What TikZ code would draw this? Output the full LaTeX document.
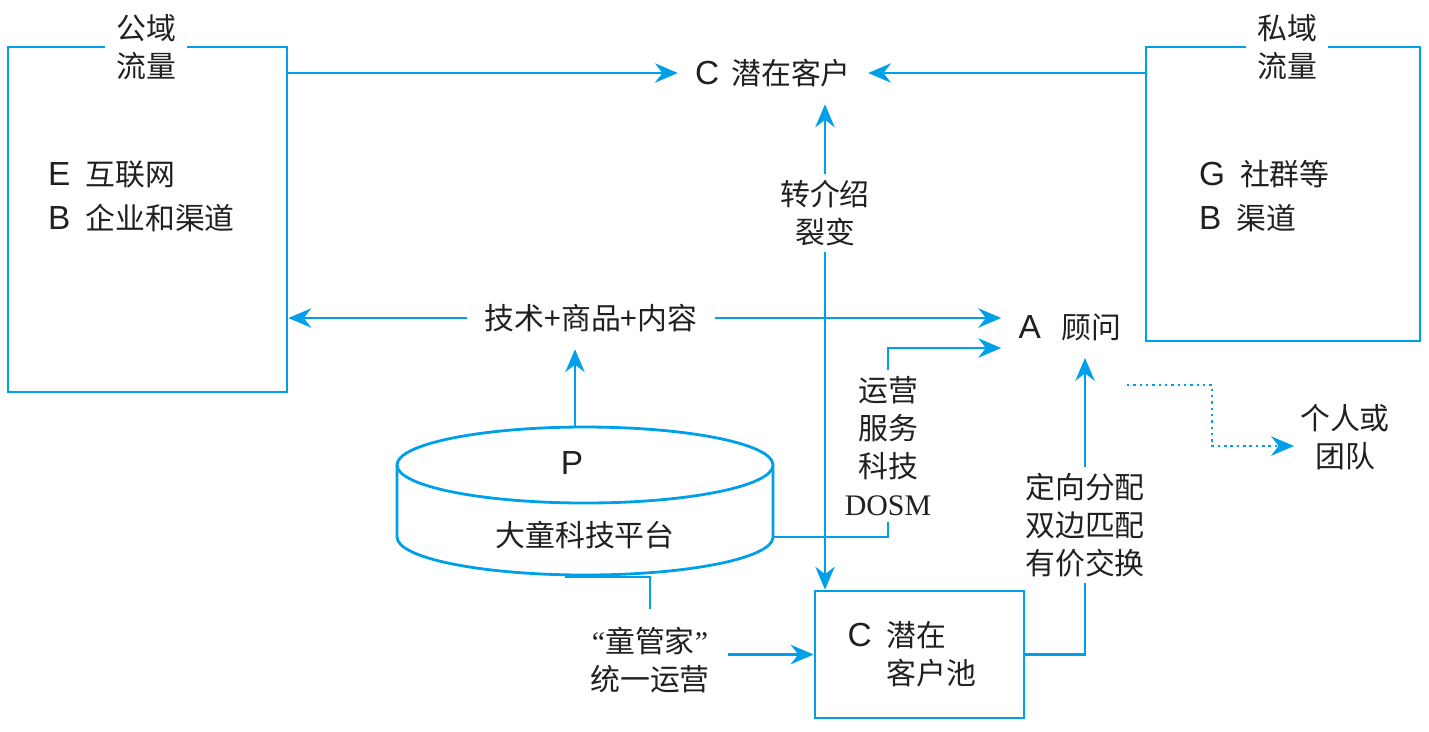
\documentclass[tikz,border=0pt]{standalone}
\usepackage{fontspec}
\setmainfont{Noto Sans CJK SC}
\newfontfamily\dosmfont{Liberation Serif}
\newfontfamily\letterfont{Liberation Sans}
\newcommand\lett[1]{{\letterfont\fontsize{19}{21.6}\selectfont #1}}
\usetikzlibrary{arrows.meta}
\definecolor{flowblue}{HTML}{00A0E9}
\definecolor{inkblack}{HTML}{231F20}

\begin{document}
\begin{tikzpicture}[x=0.02cm,y=0.02cm,
  font=\fontsize{17}{21.6}\selectfont, text=inkblack,
  flow/.style={draw=flowblue, line width=1.6pt},
  flowarr/.style={flow, -{Stealth[length=13pt,width=11pt]}},
  dotarr/.style={draw=flowblue, line width=1.4pt, dash pattern=on 1.4pt off 2.2pt, -{Stealth[length=13pt,width=11pt]}},
  tag/.style={align=center, fill=white, inner sep=0.12cm},
  item/.style={align=center, inner sep=0.34cm}]
\useasboundingbox (0,0) rectangle (1429,-731);

% traffic boxes
\node[flow, minimum width=5.58cm, minimum height=6.9cm] (lbox) at (147.5,-219.5) {};
\node[flow, minimum width=5.48cm, minimum height=5.88cm] (rbox) at (1283,-194) {};
\node[tag, inner sep=0.22cm] (lpub) at (146,-47) {公域\\流量};
\node[tag, inner sep=0.22cm] (rpriv) at (1287,-47) {私域\\流量};
\node[anchor=west, align=left] (lsrc) at (42,-196) {\lett{E}\hspace{0.5em}互联网\\[0.12cm]\lett{B}\hspace{0.5em}企业和渠道};
\node[anchor=west, align=left] (rsrc) at (1193,-196) {\lett{G}\hspace{0.5em}社群等\\[0.12cm]\lett{B}\hspace{0.5em}渠道};

\node[item] (cust) at (773,-73) {\lett{C}\hspace{0.4em}潜在客户};
\node[item] (tech) at (591,-318) {技术+商品+内容};
\node[item] (adv) at (1070,-327) {\lett{A}\hspace{0.7em}顾问};
\node[tag] (refer) at (825,-213) {转介绍\\裂变};
\node[tag] (ops) at (888,-446) {运营\\服务\\科技\\{\dosmfont DOSM}};
\node[tag] (dist) at (1085,-525) {定向分配\\双边匹配\\有价交换};
\node[align=center] (person) at (1345,-437) {个人或\\团队};
\node[align=center, inner sep=0.35cm] (steward) at (650,-660) {{\dosmfont “}童管家{\dosmfont ”}\\统一运营};
\node[flow, minimum width=4.18cm, minimum height=2.54cm, align=left] (pool) at (919.5,-654.5) {\hspace{-0.3cm}\lett{C}\hspace{0.5em}潜在\\\hspace{-0.3cm}\phantom{\lett{C}\hspace{0.5em}}客户池};

% platform cylinder
\draw[flow, fill=white] (397,-465) -- (397,-537) arc[start angle=180, end angle=360, x radius=188, y radius=38] -- (773,-465);
\draw[flow] (585,-465) ellipse [x radius=188, y radius=38];
\node (plogo) at (572,-463) {\lett{P}};
\node (plat) at (585,-535) {大童科技平台};
\coordinate (cyltop) at (575,-427);
\coordinate (cylright) at (773,-537);
\coordinate (cylbot) at (565,-577);
\coordinate (dotstart) at (1127,-385);

\draw[flowarr] (lbox.east |- cust) -- (cust.west);
\draw[flowarr] (rbox.west |- cust) -- (cust.east);
\draw[flowarr] (refer.north) -- (refer.north |- cust.south);
\draw[flowarr] (refer.south) -- (refer.south |- pool.north);
\draw[flowarr] (tech.west) -- (tech.west -| lbox.east);
\draw[flowarr] (tech.east) -- (tech.east -| adv.west);
\draw[flowarr] (cyltop) -- (cyltop |- tech.south);
\draw[flow] (cylright) -| (ops.south);
\draw[flowarr] (ops.north) |- ([yshift=-0.42cm]adv.west);
\draw[flow] (pool.east) -| (dist.south);
\draw[flowarr] (dist.north) -- (dist.north |- adv.south);
\draw[flow] (cylbot) -| (steward.north);
\draw[flowarr] (steward.east |- pool.west) -- (pool.west);
\draw[dotarr] (dotstart) -- (1212,-385) |- ([yshift=-0.18cm]person.west);
\end{tikzpicture}
\end{document}
